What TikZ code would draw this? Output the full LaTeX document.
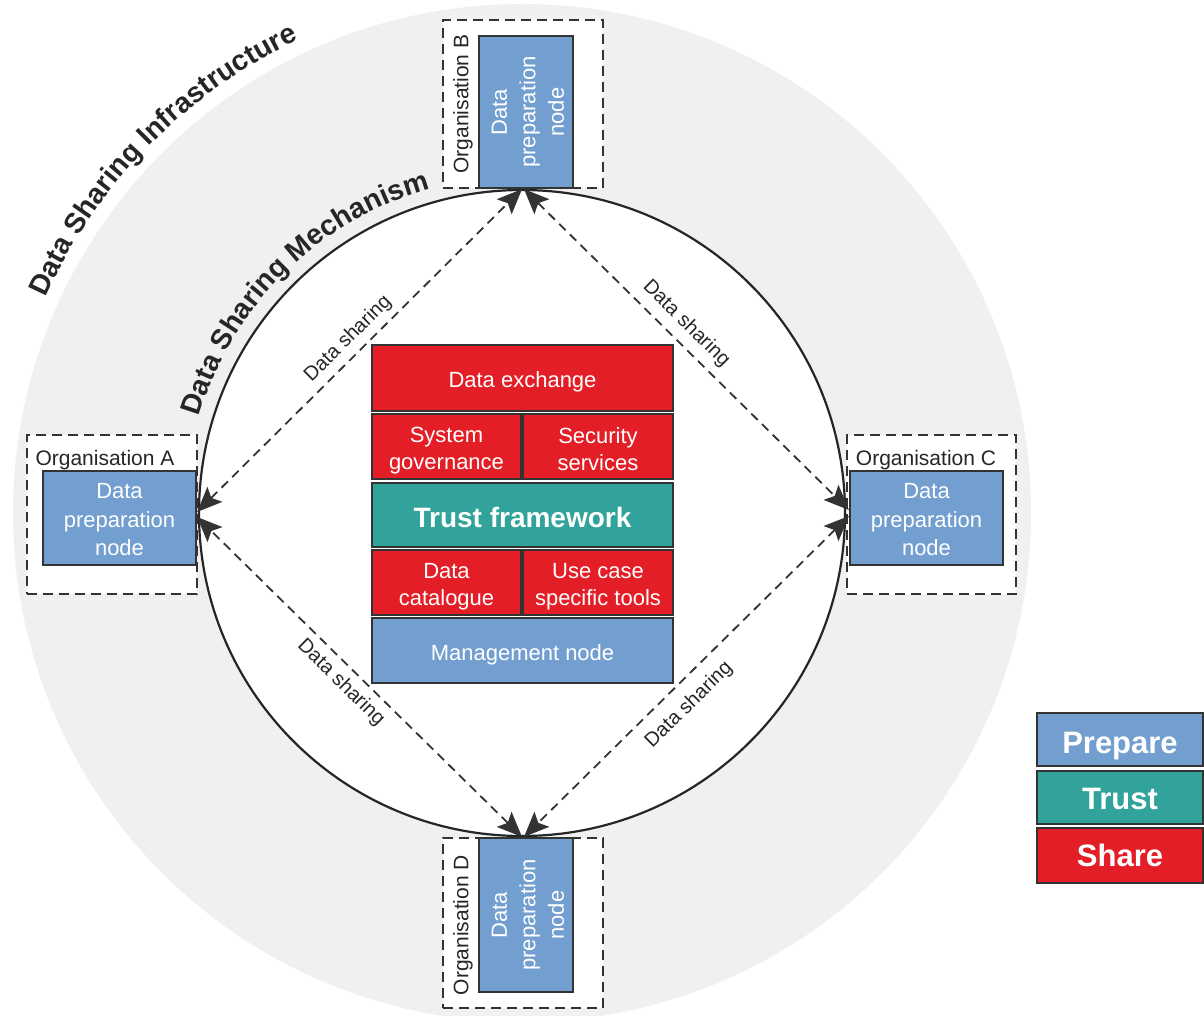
\documentclass[tikz,border=0pt]{standalone}
\usepackage{fontspec}
\setmainfont{Liberation Sans}
\usetikzlibrary{arrows.meta,decorations.text}
\definecolor{prepblue}{HTML}{729FCF}
\definecolor{trustteal}{HTML}{31A39A}
\definecolor{sharered}{HTML}{E31E26}
\definecolor{bggray}{HTML}{F0F0F0}
\definecolor{edgegray}{HTML}{333333}
\definecolor{txtgray}{HTML}{262626}
\newcommand{\lowstrut}[1]{\rule{0pt}{#1}}
\tikzset{
 blk/.style={draw=edgegray, line width=2.2pt, text=white, align=center, inner sep=0pt, font=\fontsize{22}{27}\selectfont},
 prepbox/.style={blk, fill=prepblue, font=\fontsize{22}{28.5}\selectfont},
 sharebox/.style={blk, fill=sharered},
 trustbox/.style={blk, fill=trustteal},
 orgbox/.style={draw=edgegray, line width=2pt, dash pattern=on 10pt off 6pt, fill=white, inner sep=0pt},
 orglabel/.style={text=txtgray, font=\fontsize{21}{25}\selectfont, inner sep=0pt},
 flow/.style={draw=edgegray, line width=1.8pt, dash pattern=on 9pt off 6pt, {Stealth[length=25pt,width=21pt,inset=5pt]}-{Stealth[length=25pt,width=21pt,inset=5pt]}},
 flowlabel/.style={text=txtgray, font=\fontsize{20}{23}\selectfont, sloped, inner sep=3pt},
 legendbox/.style={blk, minimum width=166pt, font=\bfseries\fontsize{31}{35}\selectfont},
 arctext/.style={decorate, decoration={text along path, text align=center, text={|\color{txtgray}\bfseries\fontsize{28.5}{32}\selectfont|#1}}}
}
\begin{document}
\begin{tikzpicture}[x=1pt,y=1pt]
\useasboundingbox (-522,-502) rectangle (682,513);
% infrastructure ring
\begin{scope}
\clip (-522,-502) rectangle (682,513);
\fill[bggray] (0,0) circle[radius=509pt];
\end{scope}
% organisation frames
\node[orgbox, minimum width=170pt, minimum height=159pt] (orgA) at (-410,-1.5) {};
\node[orgbox, minimum width=169pt, minimum height=159pt] (orgC) at (409.5,-1.5) {};
\node[orgbox, minimum width=160pt, minimum height=168pt] (orgB) at (1,409) {};
\node[orgbox, minimum width=160pt, minimum height=170pt] (orgD) at (1,-410) {};
% mechanism circle
\node[circle, draw=txtgray, fill=white, line width=2.2pt, minimum size=646pt, inner sep=0pt] (mech) at (0,0) {};
% organisation labels
\node[orglabel] (labA) at (-417,53) {Organisation A};
\node[orglabel] (labC) at (404,53) {Organisation C};
\node[orglabel, rotate=90] (labB) at (-59,409) {Organisation B};
\node[orglabel, rotate=90] (labD) at (-59,-412) {Organisation D};
% data preparation nodes
\node[prepbox, minimum width=153pt, minimum height=94pt] (A) at (-402.5,-5) {\lowstrut{19pt}Data\\preparation\\node};
\node[prepbox, minimum width=153pt, minimum height=94pt] (C) at (404.5,-5) {\lowstrut{19pt}Data\\preparation\\node};
\node[prepbox, rotate=90, minimum width=152pt, minimum height=94pt] (B) at (4,401) {\lowstrut{19pt}Data\\preparation\\node};
\node[prepbox, rotate=90, minimum width=154pt, minimum height=94pt] (D) at (4,-402) {\lowstrut{19pt}Data\\preparation\\node};
% central stack
\node[sharebox, minimum width=301pt, minimum height=66pt] (dex) at (0.5,135) {\lowstrut{24pt}Data exchange};
\node[sharebox, minimum width=149pt, minimum height=65pt] (sg) at (-75.5,66.5) {\lowstrut{23pt}System\\governance};
\node[sharebox, minimum width=150pt, minimum height=65pt] (ss) at (76,66.5) {\lowstrut{21pt}Security\\services};
\node[trustbox, minimum width=301pt, minimum height=64pt, font=\bfseries\fontsize{28}{32}\selectfont] (tf) at (0.5,-2) {\lowstrut{24.5pt}Trust framework};
\node[sharebox, minimum width=149pt, minimum height=65pt] (dc) at (-75.5,-69.5) {\lowstrut{24pt}Data\\catalogue};
\node[sharebox, minimum width=150pt, minimum height=65pt] (uc) at (76,-69.5) {\lowstrut{24pt}Use case\\specific tools};
\node[prepbox, minimum width=301pt, minimum height=65pt, font=\fontsize{22}{27}\selectfont] (mn) at (0.5,-137.5) {\lowstrut{24pt}Management node};
% data sharing connectors
\draw[flow] ([yshift=6pt]A.east) -- ([xshift=-4pt]B.west) node[flowlabel, pos=0.5, above=3pt] {Data sharing};
\draw[flow] ([xshift=-2pt]B.west) -- ([yshift=8pt]C.west) node[flowlabel, pos=0.46, above=5pt] {Data sharing};
\draw[flow] ([yshift=2pt]C.west) -- ([xshift=-2pt]D.east) node[flowlabel, pos=0.54, below=9pt] {Data sharing};
\draw[flow] ([xshift=-4pt]D.east) -- ([yshift=1pt]A.east) node[flowlabel, pos=0.52, below=4pt] {Data sharing};
% arc titles
\path[arctext={Data Sharing Mechanism}] (170:337pt) arc[start angle=170, end angle=99.2, radius=337pt];
\path[arctext={Data Sharing Infrastructure}] (176:523pt) arc[start angle=176, end angle=95, radius=523pt];
% legend
\node[legendbox, fill=prepblue, minimum height=53pt] (lp) at (598,-226.5) {\lowstrut{35pt}Prepare};
\node[legendbox, fill=trustteal, minimum height=53pt] (lt) at (598,-284.5) {\lowstrut{25pt}Trust};
\node[legendbox, fill=sharered, minimum height=55pt] (ls) at (598,-342.5) {Share};
\end{tikzpicture}
\end{document}
